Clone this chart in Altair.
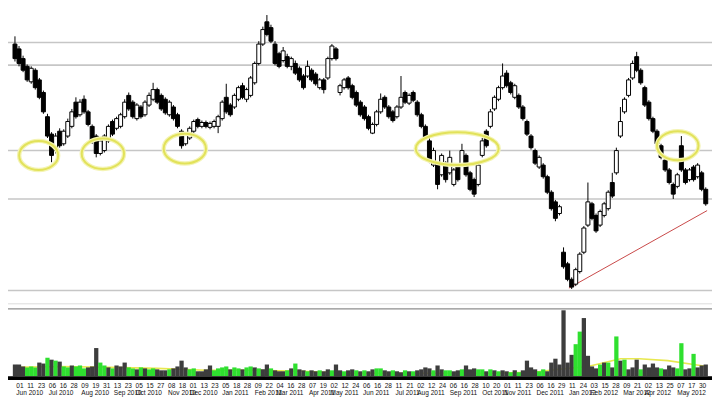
import altair as alt
import pandas as pd

# ---------------- data (one candle per 3 trading days, day 0 = 01 Jun 2010) ----------------
STEP = 3
opens = [265,260,250,242,226,238,228,215,190,172,
         155,175,162,170,180,205,192,208,195,180,
         170,152,155,165,185,178,180,190,212,205,
         188,200,192,202,208,218,212,208,192,200,
         192,175,162,168,175,187,180,184,179,180,
         180,188,210,202,200,208,222,208,212,225,
         245,265,288,282,265,255,248,252,242,245,
         240,232,232,238,234,220,228,230,250,260,
         215,220,230,222,215,205,200,190,173,182,
         195,210,200,195,190,200,215,204,215,205,
         192,180,165,140,140,130,142,132,120,140,
         140,150,132,125,120,150,175,180,198,208,
         220,235,225,210,212,200,185,170,155,138,
         140,128,112,102,90,50,38,22,17,30,
         50,78,100,88,78,88,95,122,132,170,
         195,212,230,252,238,220,205,188,175,160,
         145,135,120,118,160,135,125,138,128,132,
         115]
highs = [273,263,253,244,242,240,230,217,193,174,
         173,178,177,188,198,210,208,212,197,182,
         172,168,172,182,187,190,194,208,215,207,
         204,202,207,215,225,220,214,210,207,202,
         194,177,174,180,187,189,186,186,185,187,
         192,207,224,204,214,222,225,220,232,247,
         268,283,295,285,268,257,262,255,252,248,
         242,234,248,240,236,230,230,252,265,262,
         224,230,232,224,217,207,202,192,184,197,
         214,212,202,197,202,232,217,214,217,207,
         194,182,168,158,142,152,144,155,137,142,
         162,152,134,127,142,168,177,198,212,222,
         245,238,227,224,214,202,187,172,157,150,
         142,130,114,104,99,55,40,24,34,50,
         77,122,102,90,94,102,114,132,158,200,
         210,230,248,257,240,222,207,190,177,162,
         147,137,122,132,170,137,137,140,142,134,
         117]
lows = [247,242,236,226,224,218,208,193,168,143,
        152,158,160,168,178,188,190,193,180,162,
        148,150,153,163,170,176,178,188,196,188,
        186,188,190,200,206,203,196,192,190,186,
        178,157,160,166,173,178,178,178,177,178,
        173,186,193,190,198,206,208,205,210,223,
        243,263,273,266,243,240,246,240,238,233,
        226,218,230,226,222,218,214,228,248,248,
        212,218,218,208,200,190,186,176,172,180,
        193,198,188,184,188,198,203,202,205,190,
        178,166,142,138,115,128,122,130,118,123,
        138,128,113,107,118,148,158,178,196,206,
        218,220,213,208,198,186,170,156,140,136,
        126,110,93,82,88,33,20,12,15,28,
        48,76,83,70,76,86,93,106,130,168,
        193,210,228,236,223,200,186,173,160,146,
        133,120,105,116,133,120,123,123,126,113,
        98]
closes = [250,245,238,228,240,220,210,195,170,150,
          170,160,175,185,195,190,205,195,182,165,
          152,165,170,180,172,188,192,205,198,190,
          202,190,205,212,218,205,198,194,205,188,
          180,160,172,178,185,180,184,180,183,185,
          190,205,195,192,212,220,210,218,230,245,
          265,280,275,268,245,242,258,242,250,235,
          228,220,242,228,224,228,218,250,263,250,
          222,228,220,210,202,192,188,178,182,195,
          208,200,190,186,200,210,205,212,207,192,
          180,168,145,155,120,150,125,148,135,125,
          155,130,115,110,140,165,160,195,210,220,
          232,222,215,222,200,188,172,158,142,148,
          128,112,95,85,97,35,22,14,32,48,
          75,102,85,72,92,100,112,108,155,185,
          208,228,245,238,225,202,188,175,162,148,
          135,122,110,130,135,122,135,125,140,115,
          100]
volumes = [12,12,10,9,10,9,14,13,19,17,
           16,15,10,9,11,10,11,8,9,10,
           29,14,11,9,8,11,10,14,9,8,
           7,9,8,7,8,7,6,6,7,8,
           10,16,9,7,8,5,5,7,11,6,
           8,9,10,7,9,8,7,9,10,9,
           8,7,12,8,6,5,5,6,8,13,
           7,6,5,6,5,6,5,7,6,12,
           6,5,6,7,6,5,6,5,7,8,
           8,6,5,6,5,4,6,5,5,6,
           7,9,8,6,11,7,6,6,5,6,
           7,11,7,8,7,7,5,7,6,5,
           6,5,4,6,4,6,16,9,7,5,
           7,5,14,18,12,68,14,22,33,46,
           60,21,10,8,12,14,14,9,41,16,
           17,7,9,17,7,12,9,13,9,8,
           7,11,9,8,34,7,8,23,9,11,
           12]
vol_colors = list("kkkgggkkgk" "gkggkgggkk" "kggkgkkkgg" "kgkggkkkgk"
                  "kkkggkkkkg" "gggkggkggk" "gkkgkkkgkg" "kkgkkgkkgk"
                  "kgkkgkgkkg" "gkkgkkgkgk" "kkkgkkggkk" "gkkkggkgkg"
                  "kkgkgkkkkg" "gkkkkkkkgg" "kkkkgkgkgk" "gkkkgkkkkg"
                  "kkkggkkgkk" "k")

# volume moving average (day index, value)
ma_day = [-2.5, 33, 69, 104, 140, 175, 211, 247, 282, 318, 353, 382, 400, 422, 446, 460, 481, 505, 510]
ma_vol = [9, 10, 9, 8, 6, 6, 5, 3, 3, 3, 3, 4, 7, 10, 18, 18, 16, 11, 10]

# horizontal support / resistance levels (price units)
levels = [266.7, 243.3, 155, 105, 10.5]

# red trend line
trend_day = [408, 510]
trend_price = [13, 93]

# highlighted zones: centre (day, price), half-span (days, price)
zone_day = [16.5, 63.9, 124.4, 325.5, 488.3]
zone_price = [150, 151.7, 157, 157, 160]
zone_half_days = [14.2, 15.4, 15.4, 30.2, 15.1]
zone_half_price = [15, 15.7, 15.3, 17, 15]

# x-axis ticks every 8 trading days
tick_days = ["01","11","23","06","16","28","09","19","31","13","23","05","15","27","08","18",
             "01","13","23","05","18","28","09","22","04","16","28","07","19","02","12","24",
             "06","16","28","11","21","02","12","24","06","16","28","10","20","01","11","23",
             "06","16","29","11","24","03","15","28","09","21","02","13","25","07","17","30"]
month_names = ["Jun 2010","Jul 2010","Aug 2010","Sep 2010","Oct 2010","Nov 2010","Dec 2010",
               "Jan 2011","Feb 2011","Mar 2011","Apr 2011","May 2011","Jun 2011","Jul 2011",
               "Aug 2011","Sep 2011","Oct 2011","Nov 2011","Dec 2011","Jan 2012","Feb 2012",
               "Mar 2012","Apr 2012","May 2012"]
ticks_per_month = [3,3,3,2,3,2,3,3,2,3,2,3,3,2,3,3,2,3,3,2,3,2,3,3]

# ---------------- tables ----------------
n = len(opens)
candles = pd.DataFrame({
    "day": [STEP * k - 1 for k in range(n)],
    "open": opens, "high": highs, "low": lows, "close": closes,
    "volume": volumes,
})
candles["dir"] = ["up" if c >= o else "down" for o, c in zip(opens, closes)]
candles["vcol"] = vol_colors

tick_df = pd.DataFrame({"day": [8 * i for i in range(len(tick_days))], "label": tick_days})
mlab = []
for name, cnt in zip(month_names, ticks_per_month):
    mlab += [name] + [""] * (cnt - 1)
tick_df["month"] = mlab
month_df = tick_df[tick_df["month"] != ""]

W, H = 712, 374
XDOM = [-2.49, 509.96]
PDOM = [-82, 300]
VDOM = [-4, 378]
px_day = W / (XDOM[1] - XDOM[0])
px_price = H / (PDOM[1] - PDOM[0])

zones = pd.DataFrame({"day": zone_day, "price": zone_price})
rx = [d * px_day for d in zone_half_days]
ry = [p * px_price for p in zone_half_price]
zones["shape"] = [f"M-1,0A1,{b/a:.4f} 0 1,0 1,0A1,{b/a:.4f} 0 1,0 -1,0Z" for a, b in zip(rx, ry)]
zones["size"] = [(2 * a) ** 2 for a in rx]

xs = alt.Scale(domain=XDOM, nice=False, zero=False)
ps = alt.Scale(domain=PDOM, nice=False, zero=False)
vs = alt.Scale(domain=VDOM, nice=False, zero=False)
X = alt.X("day:Q", scale=xs, axis=None)

lev = alt.Chart(pd.DataFrame({"price": levels})).mark_rule(color="#c6c6c6", strokeWidth=1.6).encode(
    y=alt.Y("price:Q", scale=ps, axis=None))
pbot = alt.Chart(pd.DataFrame({"price": [-3.3]})).mark_rule(color="#dcdcdc", strokeWidth=1).encode(
    y=alt.Y("price:Q", scale=ps, axis=None))
vtop = alt.Chart(pd.DataFrame({"vol": [69.5]})).mark_rule(color="#8e8e8e", strokeWidth=1.2).encode(
    y=alt.Y("vol:Q", scale=vs, axis=None))

trend = alt.Chart(pd.DataFrame({"day": trend_day, "price": trend_price})).mark_line(
    color="#c84848", strokeWidth=1).encode(x=X, y=alt.Y("price:Q", scale=ps, axis=None))

wick = alt.Chart(candles).mark_rule(color="black", strokeWidth=1).encode(
    x=X, y=alt.Y("low:Q", scale=ps, axis=None), y2="high:Q")
body = alt.Chart(candles).mark_bar(width=4, stroke="black", strokeWidth=1).encode(
    x=X, y=alt.Y("open:Q", scale=ps, axis=None), y2="close:Q",
    fill=alt.Fill("dir:N", scale=alt.Scale(domain=["up", "down"], range=["white", "black"]), legend=None))

glow = alt.Chart(zones).mark_point(filled=False, opacity=1, stroke="#f4f4b4", strokeWidth=4.5).encode(
    x=X, y=alt.Y("price:Q", scale=ps, axis=None),
    shape=alt.Shape("shape:N", scale=None), size=alt.Size("size:Q", scale=None))
ring = alt.Chart(zones).mark_point(filled=False, opacity=1, stroke="#e2e25a", strokeWidth=2).encode(
    x=X, y=alt.Y("price:Q", scale=ps, axis=None),
    shape=alt.Shape("shape:N", scale=None), size=alt.Size("size:Q", scale=None))

ma = alt.Chart(pd.DataFrame({"day": ma_day, "vol": ma_vol})).mark_line(
    color="#e8e850", strokeWidth=1.6).encode(x=X, y=alt.Y("vol:Q", scale=vs, axis=None))
vbars = alt.Chart(candles).mark_bar(width=4.3).encode(
    x=X, y=alt.Y("volume:Q", scale=vs, axis=None, stack=None),
    color=alt.Color("vcol:N", scale=alt.Scale(domain=["k", "g"], range=["#3d3d3d", "#2fe02f"]), legend=None))
strip = alt.Chart(pd.DataFrame({"a": [-4], "b": [0]})).mark_rect(color="black").encode(
    x=alt.value(0), x2=alt.value(W), y=alt.Y("a:Q", scale=vs, axis=None), y2="b:Q")

row1 = alt.Chart(tick_df).mark_text(align="left", baseline="alphabetic", fontSize=6.6,
                                    font="Liberation Sans", color="#111111").encode(
    x=X, y=alt.value(H + 8), text="label:N")
row2 = alt.Chart(month_df).mark_text(align="left", baseline="alphabetic", fontSize=6.6,
                                     font="Liberation Sans", color="#111111").encode(
    x=X, y=alt.value(H + 15), text="month:N")

chart = alt.layer(
    lev, pbot, vtop, trend, wick, body, glow, ring, ma, vbars, strip, row1, row2
).resolve_scale(y="independent").properties(
    width=W, height=H,
    padding={"left": 0, "top": 0, "right": 0, "bottom": 18},
    autosize=alt.AutoSizeParams(type="none"),
    background="white",
).configure_view(stroke=None)

chart.save("out.html", embed_options={"renderer": "svg", "actions": False})
